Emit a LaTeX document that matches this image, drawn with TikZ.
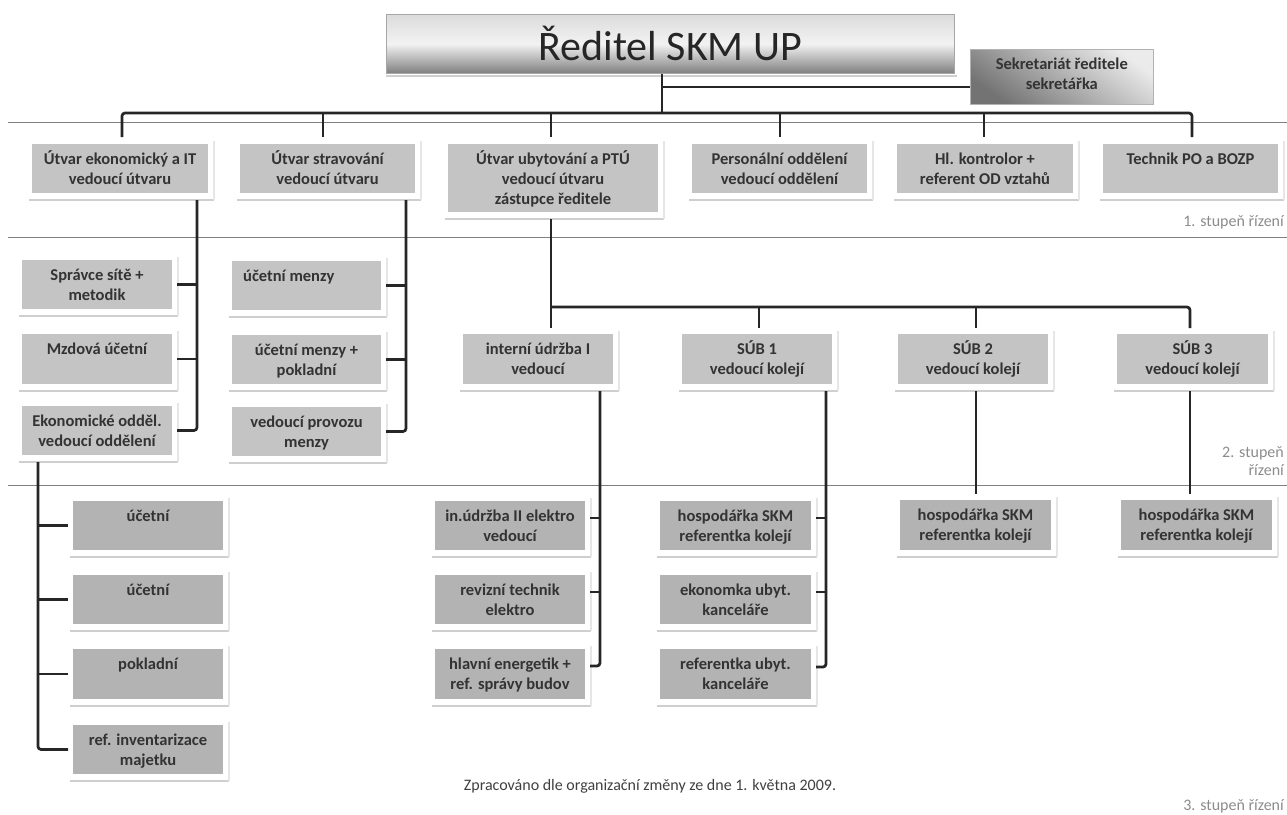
\documentclass[tikz,border=0pt]{standalone}
\usepackage{fontspec}
\setmainfont{Carlito}
\usetikzlibrary{calc}
\definecolor{linec}{HTML}{262626}
\definecolor{boxa}{HTML}{C4C4C4}
\definecolor{boxb}{HTML}{B3B3B3}
\definecolor{shad}{HTML}{CFCFCF}
\definecolor{shadv}{HTML}{E6E6E6}
\definecolor{sepc}{HTML}{7F7F7F}
\definecolor{txtc}{HTML}{333333}
\definecolor{lblc}{HTML}{8C8C8C}
\tikzset{
 conn/.style={draw=linec, line width=2.7pt},
 shadowh/.style={draw=shad, line width=2pt},
 shadowv/.style={draw=shadv, line width=1.5pt},
 boxst/.style={draw=none, inner sep=0pt, outer sep=0pt, rectangle},
 txt/.style={font=\bfseries\fontsize{16.5}{20}\selectfont, align=center, anchor=north, inner sep=0pt, text=txtc},
 sepline/.style={draw=sepc, line width=0.9pt},
 lbl/.style={font=\fontsize{16}{18}\selectfont, text=lblc, inner sep=0pt, anchor=base east},
}
\newcommand\obox[7]{%
  \draw[shadowh] (#2-3,#5+7) -- (#4+6,#5+7);
  \draw[shadowv] (#4+6,#3-3) -- (#4+6,#5+7);
  \node[boxst, fill=#6, anchor=north west, minimum width={(#4-#2)*1pt}, minimum height={(#5-#3)*1pt}] (#1) at (#2,#3) {};
  \node[txt] (#1t) at ([yshift=-5pt]#1.north) {\rule{0pt}{15pt}#7};
}
\newcommand\oboxl[7]{%
  \draw[shadowh] (#2-3,#5+7) -- (#4+6,#5+7);
  \draw[shadowv] (#4+6,#3-3) -- (#4+6,#5+7);
  \node[boxst, fill=#6, anchor=north west, minimum width={(#4-#2)*1pt}, minimum height={(#5-#3)*1pt}] (#1) at (#2,#3) {};
  \node[txt, anchor=north west, align=left] (#1t) at ([xshift=11pt,yshift=-5pt]#1.north west) {\rule{0pt}{15pt}#7};
}
\begin{document}
\begin{tikzpicture}[x=1pt,y=-1pt]
\useasboundingbox (0,0) rectangle (1287,814);
\fill[white] (0,0) rectangle (1287,814);
% separators
\draw[sepline] (8,122) -- (1287,122);
\draw[sepline] (8,237) -- (1287,237);
\draw[sepline] (8,485) -- (1287,485);
% title
\draw[shadowh] (386,76) -- (957,76);
\node[draw=black!35, line width=0.6pt, top color=black!14, bottom color=black!50, middle color=black!5,
      minimum width=568pt, minimum height=59pt, anchor=north west, inner sep=0pt,
      font=\fontsize{42}{46}\selectfont, text=black!85] (title) at (386,14) {Ředitel SKM UP};
% secretariat
\node[draw=black!30, line width=0.6pt, top color=black!8, bottom color=black!55, shading angle=-35,
      minimum width=183pt, minimum height=55pt, anchor=north west, inner sep=0pt] (sek) at (970,49) {};
\node[txt] (sekt) at ([yshift=-5pt]sek.north) {\rule{0pt}{15pt}Sekretariát ředitele\\sekretářka};
% level 1
\obox{n1}{32}{144}{208}{193}{boxa}{Útvar ekonomický a IT\\vedoucí útvaru}
\obox{n2}{240}{144}{415}{193}{boxa}{Útvar stravování\\vedoucí útvaru}
\obox{n3}{448}{144}{658}{212}{boxa}{Útvar ubytování a PTÚ\\vedoucí útvaru\\zástupce ředitele}
\obox{n4}{692}{144}{867}{193}{boxa}{Personální oddělení\\vedoucí oddělení}
\obox{n5}{897}{144}{1073}{193}{boxa}{Hl. kontrolor +\\referent OD vztahů}
\obox{n6}{1103}{144}{1278}{193}{boxa}{Technik PO a BOZP}
% level 2
\obox{sp}{22}{260}{172}{309}{boxa}{Správce sítě +\\metodik}
\obox{mz}{22}{334}{172}{384}{boxa}{Mzdová účetní}
\obox{ek}{22}{406}{172}{455}{boxa}{Ekonomické odděl.\\vedoucí oddělení}
\oboxl{um1}{232}{261}{381}{310}{boxa}{účetní menzy}
\obox{um2}{232}{335}{381}{384}{boxa}{účetní menzy +\\pokladní}
\obox{vp}{232}{407}{381}{456}{boxa}{vedoucí provozu\\menzy}
\obox{iu}{463}{334}{613}{384}{boxa}{interní údržba I\\vedoucí}
\obox{s1}{682}{334}{832}{384}{boxa}{SÚB 1\\vedoucí kolejí}
\obox{s2}{898}{334}{1048}{384}{boxa}{SÚB 2\\vedoucí kolejí}
\obox{s3}{1117}{334}{1268}{384}{boxa}{SÚB 3\\vedoucí kolejí}
% level 3
\obox{u1}{73}{501}{223}{550}{boxb}{účetní}
\obox{u2}{73}{575}{223}{624}{boxb}{účetní}
\obox{pk}{73}{649}{223}{699}{boxb}{pokladní}
\obox{ri}{73}{725}{223}{774}{boxb}{ref. inventarizace\\majetku}
\obox{e1}{435}{501}{585}{550}{boxb}{in.údržba II elektro\\vedoucí}
\obox{e2}{435}{575}{585}{624}{boxb}{revizní technik\\elektro}
\obox{e3}{435}{649}{585}{699}{boxb}{hlavní energetik +\\ref. správy budov}
\obox{h1}{660}{501}{811}{550}{boxb}{hospodářka SKM\\referentka kolejí}
\obox{h2}{660}{575}{811}{624}{boxb}{ekonomka ubyt.\\kanceláře}
\obox{h3}{660}{649}{811}{699}{boxb}{referentka ubyt.\\kanceláře}
\obox{h4}{900}{500}{1051}{550}{boxb}{hospodářka SKM\\referentka kolejí}
\obox{h5}{1121}{500}{1272}{550}{boxb}{hospodářka SKM\\referentka kolejí}
% connectors: top
\coordinate (d0) at (662,113);
\coordinate (s0) at (662,87);
\draw[conn] (title.south -| d0) -- (d0);
\draw[conn] (s0) -- (s0 -| sek.west);
\coordinate (d1) at (122,113);
\coordinate (d2) at (323,113);
\coordinate (d3) at (551,113);
\coordinate (d4) at (780,113);
\coordinate (d5) at (984,113);
\coordinate (d6) at (1192,113);
\draw[conn, rounded corners=3pt, shorten <=7pt, shorten >=7pt] (n1.north -| d1) -- (d1) -- (d6) -- (n6.north -| d6);
\draw[conn, shorten >=7pt] (d2) -- (n2.north -| d2);
\draw[conn, shorten >=7pt] (d3) -- (n3.north -| d3);
\draw[conn, shorten >=7pt] (d4) -- (n4.north -| d4);
\draw[conn, shorten >=7pt] (d5) -- (n5.north -| d5);
% level 2 left columns
\coordinate (v1) at (197,0);
\draw[conn, rounded corners=3pt, shorten <=7pt] (n1.south -| v1) -- (v1 |- ek.east) -- ([xshift=5pt]ek.east);
\draw[conn] ([xshift=5pt]sp.east) -- (sp.east -| v1);
\draw[conn] ([xshift=5pt]mz.east) -- (mz.east -| v1);
\coordinate (v2) at (406,0);
\draw[conn, rounded corners=3pt, shorten <=7pt] (n2.south -| v2) -- (v2 |- vp.east) -- ([xshift=5pt]vp.east);
\draw[conn] ([xshift=5pt]um1.east) -- (um1.east -| v2);
\draw[conn] ([xshift=5pt]um2.east) -- (um2.east -| v2);
% level 2 right group
\coordinate (r0) at (551,307);
\coordinate (r1) at (759,307);
\coordinate (r2) at (976,307);
\coordinate (r3) at (1190,307);
\draw[conn, shorten <=7pt, shorten >=6pt] (n3.south -| r0) -- (iu.north -| r0);
\draw[conn, rounded corners=3pt, shorten >=6pt] (r0) -- (r3) -- (s3.north -| r3);
\draw[conn, shorten >=6pt] (r1) -- (s1.north -| r1);
\draw[conn, shorten >=6pt] (r2) -- (s2.north -| r2);
% level 3 middle
\coordinate (v3) at (600,0);
\coordinate (e1s) at ([xshift=5pt,yshift=-17pt]e1.north east);
\coordinate (e2s) at ([xshift=5pt,yshift=-17pt]e2.north east);
\coordinate (e3s) at ([xshift=5pt,yshift=-17pt]e3.north east);
\draw[conn, rounded corners=3pt, shorten <=7pt] (iu.south -| v3) -- (v3 |- e3s) -- (e3s);
\draw[conn] (e1s) -- (e1s -| v3);
\draw[conn] (e2s) -- (e2s -| v3);
\coordinate (v4) at (826,0);
\coordinate (h1s) at ([xshift=5pt,yshift=-17pt]h1.north east);
\coordinate (h2s) at ([xshift=5pt,yshift=-17pt]h2.north east);
\coordinate (h3s) at ([xshift=5pt,yshift=-18pt]h3.north east);
\draw[conn, rounded corners=3pt, shorten <=7pt] (s1.south -| v4) -- (v4 |- h3s) -- (h3s);
\draw[conn] (h1s) -- (h1s -| v4);
\draw[conn] (h2s) -- (h2s -| v4);
\draw[conn, shorten <=7pt, shorten >=6pt] (s2.south -| r2) -- (h4.north -| r2);
\draw[conn, shorten <=7pt, shorten >=6pt] (s3.south -| r3) -- (h5.north -| r3);
% level 3 left
\coordinate (v0) at (38,0);
\draw[conn, rounded corners=3pt, shorten <=7pt] (ek.south -| v0) -- (v0 |- ri.west) -- ([xshift=-5pt]ri.west);
\draw[conn] (v0 |- u1.west) -- ([xshift=-5pt]u1.west);
\draw[conn] (v0 |- u2.west) -- ([xshift=-5pt]u2.west);
\draw[conn] (v0 |- pk.west) -- ([xshift=-5pt]pk.west);
% labels
\node[lbl] (l1) at (1284,226) {1. stupeň řízení};
\node[lbl] (l2a) at (1284,457) {2. stupeň};
\node[lbl] (l2b) at (1284,475) {řízení};
\node[lbl] (l3) at (1284,810) {3. stupeň řízení};
\node[font=\fontsize{16}{18}\selectfont, text=black!75, anchor=base, inner sep=0pt] (cap) at (650,790) {Zpracováno dle organizační změny ze dne 1. května 2009.};
\end{tikzpicture}
\end{document}
